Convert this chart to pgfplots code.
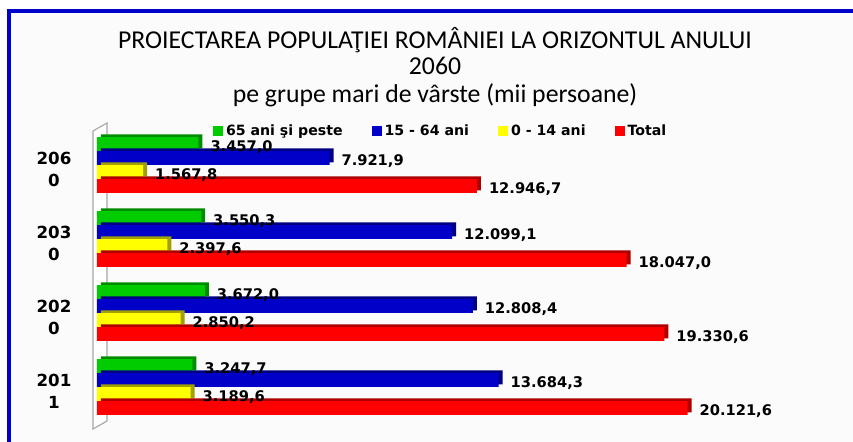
\documentclass[border=0pt]{standalone}
\usepackage{fontspec}
\setmainfont{DejaVu Sans}
\newfontfamily\titlefont{Carlito}
\usepackage{pgfplots}
\usepackage{pgfplotstable}
\pgfplotsset{compat=1.18}
\definecolor{cgreen}{RGB}{0,204,0}
\definecolor{cgreenD}{RGB}{0,140,0}
\definecolor{cblue}{RGB}{0,0,200}
\definecolor{cblueD}{RGB}{0,0,130}
\definecolor{cyellow}{RGB}{255,255,0}
\definecolor{cyellowD}{RGB}{160,160,0}
\definecolor{cred}{RGB}{255,0,0}
\definecolor{credD}{RGB}{175,0,0}
\definecolor{frameblue}{RGB}{0,0,204}

\pgfplotstableread{
year old work young total
0 3247.7 13684.3 3189.6 20121.6
1 3672.0 12808.4 2850.2 19330.6
2 3550.3 12099.1 2397.6 18047.0
3 3457.0 7921.9 1567.8 12946.7
}\data

\pgfplotsset{
  valuelabels/.style={
    nodes near coords={\pgfmathprintnumber[fixed,fixed zerofill,precision=1,use comma,1000 sep={.},assume math mode=true]{\pgfplotspointmeta}},
    nodes near coords style={anchor=west, font=\bfseries\fontsize{11}{13}\selectfont, xshift=5.5pt, yshift=-2.6pt, text=black},
  },
  depth/.style={forget plot, draw=none, xshift=3pt, yshift=2pt},
}

\begin{document}
\begin{tikzpicture}
\path[use as bounding box] (0pt,0pt) rectangle (639.75pt,-331.5pt);
\fill[gray!3] (6.75pt,-8.25pt) rectangle (639.75pt,-331.5pt);
\draw[frameblue, line width=2.3pt] (6.75pt,-331.5pt) -- (6.75pt,-8.25pt) -- (640pt,-8.25pt);
% title
\node[font=\titlefont\fontsize{19.3}{22}\selectfont] at (326.25pt,-30pt) {PROIECTAREA POPULAŢIEI ROMÂNIEI LA ORIZONTUL ANULUI};
\node[font=\titlefont\fontsize{19.3}{22}\selectfont] at (326.25pt,-49.5pt) {2060};
\node[font=\titlefont\fontsize{19.3}{22}\selectfont] at (326.25pt,-71.25pt) {pe grupe mari de vârste (mii persoane)};
% wall
\draw[gray!70, fill=white, line width=0.8pt] (69.75pt,-98.25pt) -- (80.25pt,-92.25pt) -- (80.25pt,-315.75pt) -- (69.75pt,-321.75pt) -- cycle;
\begin{axis}[
  at={(72.75pt,-90.45pt)}, anchor=north west,
  scale only axis, width=550.3pt, height=233.1pt,
  xbar,
  xmin=0, xmax=25000, ymin=-0.6, ymax=3.6,
  axis line style={draw=none},
  xtick=\empty, ytick={0,1,2,3},
  yticklabels={{201\\1},{202\\0},{203\\0},{206\\0}},
  major tick length=0pt,
  yticklabel style={align=center, font=\bfseries\fontsize{12.5}{16.5}\selectfont, inner sep=0pt, xshift=-19pt, yshift=-3pt},
  bar width=0.189,
  clip=false,
  point meta=x,
  legend columns=4,
  legend style={at={(0.469,0.966)}, anchor=center, draw=none, fill=none,
    font=\bfseries\fontsize{10.6}{12}\selectfont,
    /tikz/every even column/.append style={column sep=20pt}},
  legend image code/.code={\fill[#1, draw=none] (0pt,-3.75pt) rectangle (7.5pt,3.75pt);},
]
\addplot[fill=cgreenD, depth, bar shift=0.2838] table[x=old,y=year]{\data};
\addplot[fill=cgreen, draw=none, bar shift=0.2838, valuelabels] table[x=old,y=year]{\data};
\addplot[fill=cblueD, depth, bar shift=0.0946] table[x=work,y=year]{\data};
\addplot[fill=cblue, draw=none, bar shift=0.0946, valuelabels] table[x=work,y=year]{\data};
\addplot[fill=cyellowD, depth, bar shift=-0.0946] table[x=young,y=year]{\data};
\addplot[fill=cyellow, draw=none, bar shift=-0.0946, valuelabels] table[x=young,y=year]{\data};
\addplot[fill=credD, depth, bar shift=-0.2838] table[x=total,y=year]{\data};
\addplot[fill=cred, draw=none, bar shift=-0.2838, valuelabels] table[x=total,y=year]{\data};
\legend{65 ani şi peste, 15 - 64 ani, 0 - 14 ani, Total}
\end{axis}
\end{tikzpicture}
\end{document}
